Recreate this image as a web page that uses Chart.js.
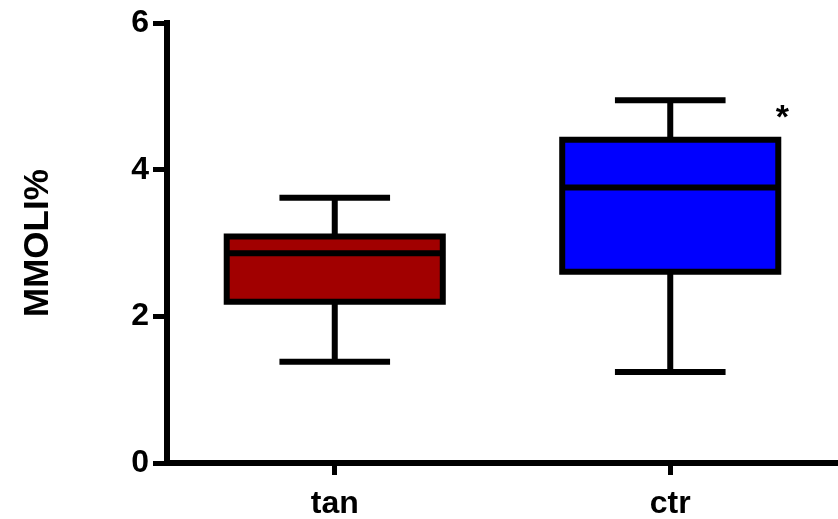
<!DOCTYPE html>
<html>
<head>
<meta charset="utf-8">
<script src="https://cdn.jsdelivr.net/npm/chart.js@4"></script>
<style>
  html, body { margin: 0; padding: 0; background: #ffffff; }
  canvas { display: block; }
</style>
</head>
<body>
<canvas id="chart" width="838" height="519"></canvas>
<script>
// Box-and-whisker summary per group
const categories  = ['tan', 'ctr'];
const whiskerLow  = [1.38, 1.24];
const q1          = [2.20, 2.61];
const median      = [2.86, 3.76];
const q3          = [3.09, 4.41];
const whiskerHigh = [3.62, 4.95];
const significance = ['', '*'];
const boxColors   = ['#a10000', '#0000ff'];
const yTicks      = [0, 2, 4, 6];

const FONT = "'Liberation Sans', Arial, Helvetica, sans-serif";
const LINE = 6;

// Draws box outlines, medians, whiskers and caps on top of the floating bars
const boxWhiskerPlugin = {
  id: 'boxWhisker',
  afterDatasetsDraw(chart) {
    const ctx = chart.ctx;
    const yScale = chart.scales.y;
    const meta = chart.getDatasetMeta(0);
    ctx.save();
    ctx.strokeStyle = '#000';
    ctx.lineWidth = LINE;
    ctx.lineCap = 'butt';
    ctx.lineJoin = 'miter';
    meta.data.forEach((bar, i) => {
      const { x, width } = bar.getProps(['x', 'width'], true);
      const left = x - width / 2;
      const right = x + width / 2;
      const yQ1 = yScale.getPixelForValue(q1[i]);
      const yQ3 = yScale.getPixelForValue(q3[i]);
      const yMed = yScale.getPixelForValue(median[i]);
      const yLo = yScale.getPixelForValue(whiskerLow[i]);
      const yHi = yScale.getPixelForValue(whiskerHigh[i]);
      const capHalf = width * 0.256;

      ctx.beginPath();
      // box
      ctx.rect(left, yQ3, width, yQ1 - yQ3);
      // median
      ctx.moveTo(left, yMed); ctx.lineTo(right, yMed);
      // whiskers
      ctx.moveTo(x, yQ3); ctx.lineTo(x, yHi);
      ctx.moveTo(x, yQ1); ctx.lineTo(x, yLo);
      // caps
      ctx.moveTo(x - capHalf, yHi); ctx.lineTo(x + capHalf, yHi);
      ctx.moveTo(x - capHalf, yLo); ctx.lineTo(x + capHalf, yLo);
      ctx.stroke();

      if (significance[i]) {
        ctx.fillStyle = '#000';
        ctx.font = 'bold 34px ' + FONT;
        ctx.textAlign = 'center';
        ctx.textBaseline = 'middle';
        ctx.fillText(significance[i], right + 4, yHi + 18);
      }
    });
    ctx.restore();
  }
};

new Chart(document.getElementById('chart'), {
  type: 'bar',
  data: {
    labels: categories,
    datasets: [{
      data: categories.map((c, i) => [q1[i], q3[i]]),
      backgroundColor: boxColors,
      borderWidth: 0,
      barPercentage: 0.644,
      categoryPercentage: 1
    }]
  },
  options: {
    responsive: false,
    animation: false,
    devicePixelRatio: 1,
    layout: { padding: { top: 19, right: 0, bottom: 0, left: 0 } },
    plugins: {
      legend: { display: false },
      tooltip: { enabled: false }
    },
    scales: {
      x: {
        type: 'category',
        offset: true,
        grid: {
          display: true,
          offset: false,
          drawOnChartArea: false,
          drawTicks: true,
          tickLength: 12,
          tickWidth: 5,
          tickColor: '#000'
        },
        border: { display: true, width: LINE, color: '#000' },
        ticks: {
          color: '#000',
          font: { family: FONT, size: 32, weight: 'bold' },
          padding: 10
        },
        afterFit(scale) { scale.height = 56; }
      },
      y: {
        min: 0,
        max: 6,
        afterBuildTicks(scale) { scale.ticks = yTicks.map(v => ({ value: v })); },
        grid: {
          display: true,
          drawOnChartArea: false,
          drawTicks: true,
          tickLength: 14,
          tickWidth: 5,
          tickColor: '#000'
        },
        border: { display: true, width: LINE, color: '#000' },
        ticks: {
          color: '#000',
          font: { family: FONT, size: 32, weight: 'bold' },
          padding: 4
        },
        title: {
          display: true,
          text: 'MMOLI%',
          color: '#000',
          font: { family: FONT, size: 35, weight: 'bold' },
          padding: { top: 17, bottom: 0 }
        },
        afterFit(scale) { scale.width = 167; }
      }
    }
  },
  plugins: [boxWhiskerPlugin]
});
</script>
</body>
</html>
